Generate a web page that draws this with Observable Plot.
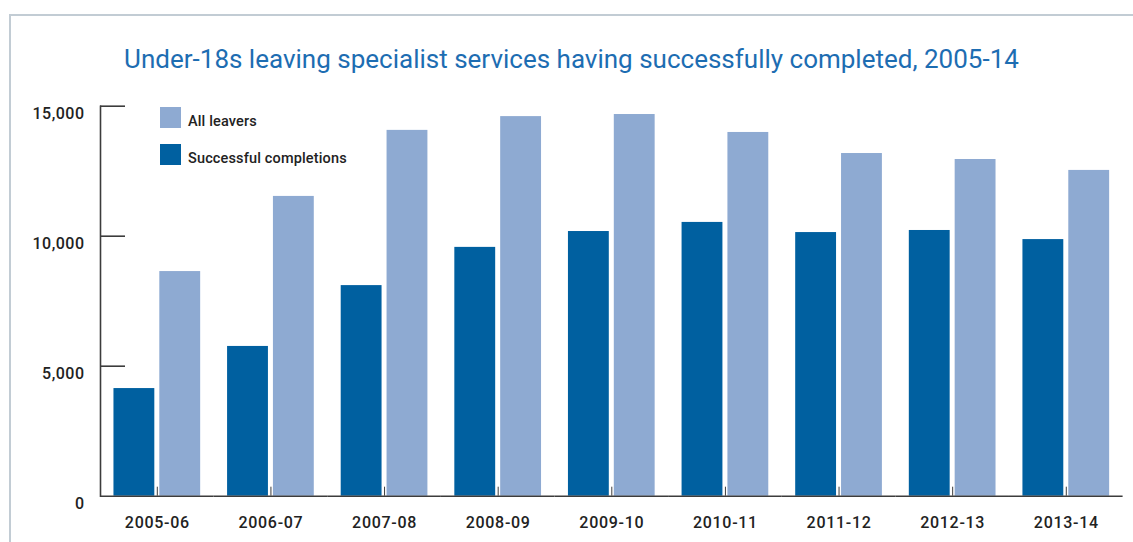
<!DOCTYPE html>
<html>
<head>
<meta charset="utf-8">
<script src="https://cdn.jsdelivr.net/npm/d3@7"></script>
<script src="https://cdn.jsdelivr.net/npm/@observablehq/plot@0.6"></script>
<style>
  body { margin: 0; background: #fff; }
  #chart { position: relative; width: 1133px; height: 542px; overflow: hidden; font-family: Roboto, "Liberation Sans", sans-serif; }
  #frame { position: absolute; left: 9px; top: 14px; width: 1130px; height: 540px; border-top: 2px solid #c2ccd4; border-left: 2px solid #c2ccd4; }
  #title { position: absolute; left: 10px; width: 1123px; top: 44px; line-height: 30px; text-align: center; font-size: 26px; font-weight: 400; color: #1d6db2; white-space: nowrap; }
  #chart svg { position: absolute; left: 0; top: 0; }
  #chart svg g[aria-label="y-axis tick label"] text { letter-spacing: 0.5px; }
  #chart svg g[aria-label="fx-axis tick label"] text { letter-spacing: 0.7px; }
  .sw { position: absolute; width: 21px; height: 21px; }
  .lab { position: absolute; font-size: 14.5px; font-weight: 500; letter-spacing: 0.15px; color: #222; line-height: 16px; white-space: nowrap; }
</style>
</head>
<body>
<div id="chart">
  <div id="frame"></div>
  <div id="title">Under-18s leaving specialist services having successfully completed, 2005-14</div>
</div>
<script>
// Financial years shown along the bottom
const years = ["2005-06", "2006-07", "2007-08", "2008-09", "2009-10", "2010-11", "2011-12", "2012-13", "2013-14"];

// Young people leaving specialist services each year
const allLeavers = [8640, 11530, 14070, 14600, 14680, 13990, 13180, 12950, 12530];
const successfulCompletions = [4140, 5760, 8100, 9570, 10180, 10530, 10140, 10220, 9870];

// Series names (drawing order within each year) and their colours
const seriesNames = ["Successful completions", "All leavers"];
const seriesColors = ["#0060a0", "#8eaad2"];

// Legend order as printed
const legendOrder = ["All leavers", "Successful completions"];

// Value axis ticks
const yTicks = [0, 5000, 10000, 15000];

const rows = years.flatMap((year, i) => [
  {year, series: seriesNames[0], value: successfulCompletions[i]},
  {year, series: seriesNames[1], value: allLeavers[i]}
]);

const axisColor = "#3c3c3c";
const labelColor = "#222";

const chart = Plot.plot({
  width: 1133,
  height: 542,
  marginLeft: 100,
  marginRight: 10.4,
  marginTop: 105.7,
  marginBottom: 46.3,
  style: {background: "transparent", fontFamily: "Roboto, 'Liberation Sans', sans-serif", overflow: "visible"},
  fx: {domain: years, padding: 0, round: false, label: null},
  x: {domain: seriesNames, paddingInner: 0.109, paddingOuter: 0.2935, round: false, axis: null},
  y: {domain: [0, 15000], label: null},
  color: {domain: seriesNames, range: seriesColors},
  marks: [
    Plot.barY(rows, {fx: "year", x: "series", y: "value", fill: "series"}),
    Plot.ruleY([0], {stroke: axisColor, strokeWidth: 1.6}),
    Plot.frame({anchor: "left", facetAnchor: "left", stroke: axisColor, strokeWidth: 1.6}),
    // inward ticks on the value axis
    Plot.axisY(yTicks.filter(d => d > 0), {anchor: "left", text: null, label: null, tickSize: 25, dx: 25, stroke: axisColor, strokeWidth: 1.6}),
    Plot.axisY(yTicks, {anchor: "left", label: null, tickSize: 0, tickPadding: 16, dy: 8, tickFormat: d3.format(","), fontSize: 16, fontWeight: 500, fill: labelColor}),
    // small upward ticks at each year's centre
    Plot.axisFx({anchor: "bottom", text: null, label: null, tickSize: 9, dy: -9, stroke: axisColor, strokeWidth: 1}),
    Plot.axisFx({anchor: "bottom", label: null, tickSize: 0, tickPadding: 20, fontSize: 16, fontWeight: 500, fill: labelColor})
  ]
});

const root = document.getElementById("chart");
root.appendChild(chart);

// Legend: swatches and labels stacked in the top-left of the plot area
legendOrder.forEach((name, i) => {
  const sw = document.createElement("div");
  sw.className = "sw";
  sw.style.left = "160px";
  sw.style.top = (107 + i * 37) + "px";
  sw.style.background = seriesColors[seriesNames.indexOf(name)];
  root.appendChild(sw);
  const lab = document.createElement("div");
  lab.className = "lab";
  lab.style.left = "188px";
  lab.style.top = (113.5 + i * 37.5) + "px";
  lab.textContent = name;
  root.appendChild(lab);
});
</script>
</body>
</html>
